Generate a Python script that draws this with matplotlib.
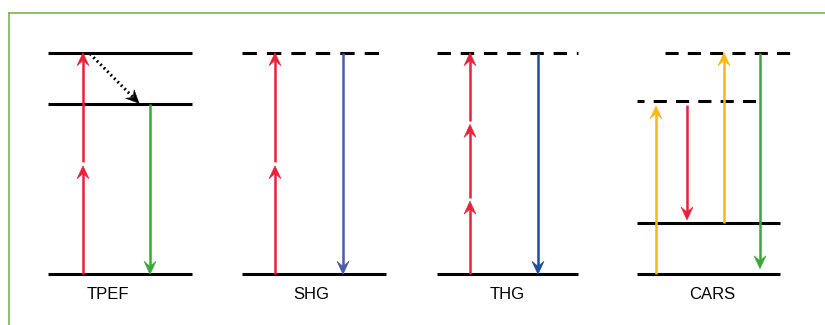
import matplotlib
matplotlib.use("Agg")
import matplotlib.pyplot as plt
from matplotlib.patches import Polygon
from matplotlib.lines import Line2D
import numpy as np

plt.rcParams['font.family'] = ['Liberation Sans', 'DejaVu Sans']

# ---- data ----
techniques = ["TPEF", "SHG", "THG", "CARS"]
# energy levels (ground = 0, highest = 1)
levels_tpef = [(0.0, "solid"), (0.767, "solid"), (1.0, "solid")]
levels_shg = [(0.0, "solid"), (1.0, "dashed")]
levels_thg = [(0.0, "solid"), (1.0, "dashed")]
levels_cars = [(0.0, "solid"), (0.233, "solid"), (0.783, "dashed"), (1.0, "dashed")]
# transitions: (from energy, to energy, colour name)
trans_tpef = [(0.0, 0.49, "red"), (0.508, 1.0, "red"), (0.767, 0.0, "green")]
trans_shg = [(0.0, 0.49, "red"), (0.508, 1.0, "red"), (1.0, 0.0, "blue")]
trans_thg = [(0.0, 0.33, "red"), (0.345, 0.677, "red"), (0.69, 1.0, "red"), (1.0, 0.0, "dblue")]
trans_cars = [(0.0, 0.76, "yellow"), (0.765, 0.245, "red"), (0.233, 1.0, "yellow"), (1.0, 0.025, "green")]
relax_tpef = (1.0, 0.787)

colors = {"red": "#e8213b", "green": "#3aa838", "blue": "#4b5ba8",
          "dblue": "#1c4d9e", "yellow": "#fbb714"}

# ---- layout (pixels) ----
fig = plt.figure(figsize=(8.25, 3.25), dpi=100)
ax = fig.add_axes([0, 0, 1, 1])
ax.set_xlim(0, 825)
ax.set_ylim(-0.2288, 1.2378)
ax.axis("off")
EPX = 221.6  # pixels per energy unit

panel_left = [48, 242, 437, 637]
label_x = [108, 311, 507, 712]

lvl_lw = 2.2
arr_lw = 1.8
HEAD_L, HEAD_W, NOTCH = 13.0, 6.0, 5.0

def level(x0, x1, e, kind, offset=0.0, dash=(4.7, 3.3)):
    if kind == "solid":
        ax.plot([x0, x1], [e, e], color="black", lw=lvl_lw, solid_capstyle="butt")
    else:
        ax.plot([x0, x1], [e, e], color="black", lw=lvl_lw,
                linestyle=(offset, dash), dash_capstyle="butt")

def head(tip_x, tip_e, ux, uy, col):
    px, py = -uy, ux
    tx, ty = tip_x, tip_e * EPX
    pts = [(tx, ty),
           (tx - HEAD_L * ux + HEAD_W * px, ty - HEAD_L * uy + HEAD_W * py),
           (tx - (HEAD_L - NOTCH) * ux, ty - (HEAD_L - NOTCH) * uy),
           (tx - HEAD_L * ux - HEAD_W * px, ty - HEAD_L * uy - HEAD_W * py)]
    pts = [(x, y / EPX) for x, y in pts]
    ax.add_patch(Polygon(pts, closed=True, facecolor=col, edgecolor=col, lw=0.4, zorder=4))

def arrow(x, e0, e1, c):
    col = colors[c]
    d = 1.0 if e1 > e0 else -1.0
    back = e1 - d * (HEAD_L - NOTCH - 0.5) / EPX
    ax.plot([x, x], [e0, back], color=col, lw=arr_lw, solid_capstyle="butt", zorder=3)
    head(x, e1, 0.0, d, col)

# TPEF
L = panel_left[0]
for e, k in levels_tpef:
    level(L, L + 144, e, k)
for (e0, e1, c), dx in zip(trans_tpef, [35, 35, 102]):
    arrow(L + dx, e0, e1, c)
x0, y0 = L + 42, (relax_tpef[0] - 0.005) * EPX
x1, y1 = L + 91, 0.772 * EPX
v = np.array([x1 - x0, y1 - y0]); n = v / np.hypot(*v)
ax.plot([x0, x1 - n[0] * 8], [y0 / EPX, (y1 - n[1] * 8) / EPX], color="black",
        lw=2.2, linestyle=(0, (0.6, 1.0)), zorder=3)
head(x1, y1 / EPX, n[0], n[1], "black")

# SHG
L = panel_left[1]
for e, k in levels_shg:
    level(L, L + 144, e, k)
for (e0, e1, c), dx in zip(trans_shg, [33, 33, 101]):
    arrow(L + dx, e0, e1, c)

# THG
L = panel_left[2]
for e, k in levels_thg:
    level(L, L + 141, e, k, dash=(4.4, 3.2))
for (e0, e1, c), dx in zip(trans_thg, [33, 33, 33, 101]):
    arrow(L + dx, e0, e1, c)

# CARS
L = panel_left[3]
level(L, L + 143, levels_cars[0][0], "solid")
level(L, L + 143, levels_cars[1][0], "solid")
level(L, L + 123, levels_cars[2][0], "dashed", offset=2.0, dash=(4.3, 3.0))
level(L + 28, L + 158, levels_cars[3][0], "dashed", dash=(4.3, 3.0))
for (e0, e1, c), dx in zip(trans_cars, [19, 50, 87, 123]):
    arrow(L + dx, e0, e1, c)

for name, x in zip(techniques, label_x):
    ax.text(x, -0.093, name, ha="center", va="center", fontsize=12, color="black")

# green frame
fig.add_artist(Line2D([9 / 825, 9 / 825], [0, 1 - 13 / 325], transform=fig.transFigure,
                      color="#7ab648", lw=1.2))
fig.add_artist(Line2D([9 / 825, 1], [1 - 13 / 325, 1 - 13 / 325], transform=fig.transFigure,
                      color="#7ab648", lw=1.2))

fig.savefig("out.png", dpi=100, facecolor="white")
